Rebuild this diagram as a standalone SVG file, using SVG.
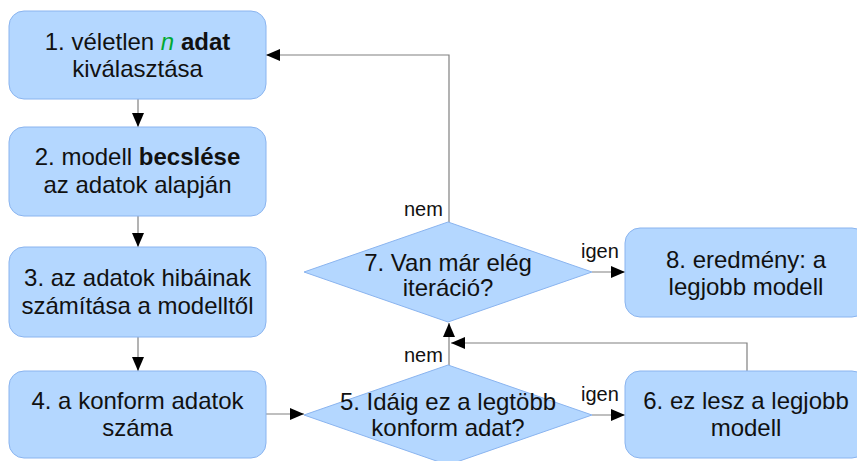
<svg xmlns="http://www.w3.org/2000/svg" width="857" height="461" viewBox="0 0 857 461">
<defs>
<marker id="ah" markerWidth="14" markerHeight="12" refX="14" refY="6" orient="auto" markerUnits="userSpaceOnUse">
<path d="M0,0 L14,6 L0,12 z" fill="#000"/>
</marker>
<style>
.box{fill:#b4d7ff;stroke:#8ab4ef;stroke-width:1}
.t{font-family:"Liberation Sans",Arial,sans-serif;font-size:24px;fill:#111;text-anchor:middle}
.lbl{font-family:"Liberation Sans",Arial,sans-serif;font-size:20px;fill:#111}
.c{fill:none;stroke:#808080;stroke-width:1.2;marker-end:url(#ah)}
</style>
</defs>
<rect width="857" height="461" fill="#fff"/>
<g id="connectors">
<path class="c" d="M138,99 V127"/>
<path class="c" d="M138,216 V247"/>
<path class="c" d="M138,337 V371"/>
<path class="c" d="M266,414 H304"/>
<path class="c" d="M592,415 H625"/>
<path class="c" d="M449,365 V323"/>
<path class="c" d="M747,371 V343 H451"/>
<path class="c" d="M592,272 H625"/>
<path class="c" d="M449,222 V55 H266"/>
<text class="lbl" x="404" y="216">nem</text>
<text class="lbl" x="404" y="362">nem</text>
<text class="lbl" x="581" y="258">igen</text>
<text class="lbl" x="581" y="401">igen</text>
</g>
<g id="n1">
<rect class="box" x="9" y="11" width="257" height="88" rx="15"/>
<text class="t" x="137.5" y="50">1. véletlen <tspan fill="#00a933" font-style="italic">n</tspan> <tspan font-weight="bold">adat</tspan><tspan x="137.5" dy="27">kiválasztása</tspan></text>
</g>
<g id="n2">
<rect class="box" x="9" y="127" width="257" height="89" rx="15"/>
<text class="t" x="137.5" y="165">2. modell <tspan font-weight="bold">becslése</tspan><tspan x="137.5" dy="28">az adatok alapján</tspan></text>
</g>
<g id="n3">
<rect class="box" x="9" y="247" width="257" height="90" rx="15"/>
<text class="t" x="137.5" y="286">3. az adatok hibáinak<tspan x="137.5" dy="28">számítása a modelltől</tspan></text>
</g>
<g id="n4">
<rect class="box" x="9" y="371" width="257" height="87" rx="15"/>
<text class="t" x="137.5" y="409">4. a konform adatok<tspan x="137.5" dy="27">száma</tspan></text>
</g>
<g id="n5">
<polygon class="box" points="448,365 592,415 448,465 304,415"/>
<text class="t" x="448" y="410">5. Idáig ez a legtöbb<tspan x="448" dy="26">konform adat?</tspan></text>
</g>
<g id="n6">
<rect class="box" x="625" y="371" width="242" height="87" rx="15"/>
<text class="t" x="746" y="409">6. ez lesz a legjobb<tspan x="746" dy="27">modell</tspan></text>
</g>
<g id="n7">
<polygon class="box" points="448,222 592,272 448,322 304,272"/>
<text class="t" x="448" y="271">7. Van már elég<tspan x="448" dy="25">iteráció?</tspan></text>
</g>
<g id="n8">
<rect class="box" x="625" y="228" width="242" height="89" rx="15"/>
<text class="t" x="746" y="268">8. eredmény: a<tspan x="746" dy="27">legjobb modell</tspan></text>
</g>
</svg>
